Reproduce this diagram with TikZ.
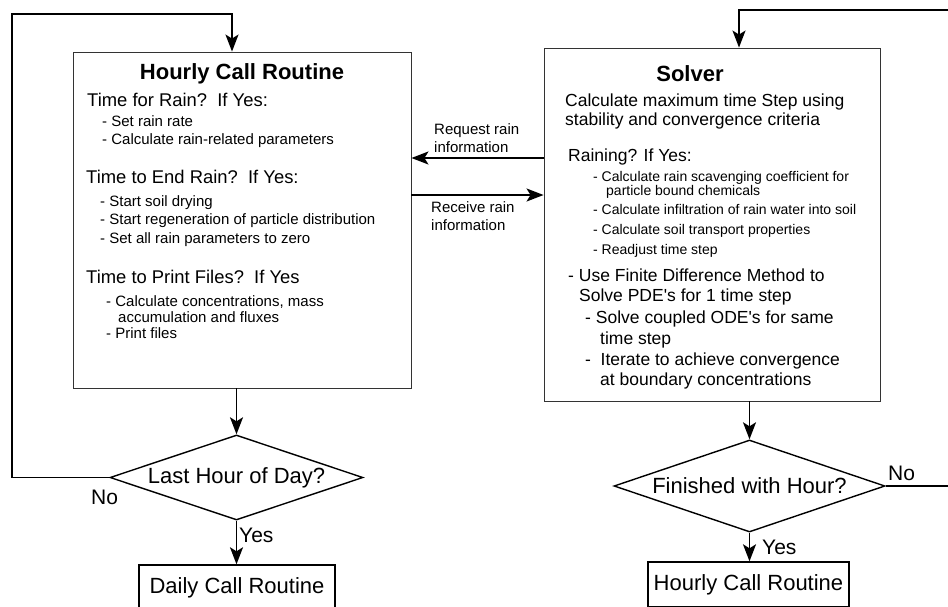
\documentclass[tikz,border=0pt]{standalone}
\usepackage{fontspec}
\setmainfont{Liberation Sans}
\usetikzlibrary{arrows.meta,shapes.geometric}
\newcommand{\fs}[1]{\fontsize{#1}{#1}\selectfont}

\begin{document}
\begin{tikzpicture}[
  x=1pt, y=-1pt,
  >={Stealth[length=17pt,width=13pt,inset=4pt]},
  flow/.style={->, line width=1.8pt},
  frame/.style={draw=black!80, line width=0.9pt, inner sep=0},
  box/.style={draw, line width=1.4pt, inner sep=0, font=\fs{22}},
  decision/.style={diamond, draw, line width=1.4pt, aspect=3, inner sep=0,
    font=\fs{22}},
  title/.style={inner sep=0, text height=15.5pt, text depth=0pt,
    font=\fs{22}\bfseries},
  txt/.style={anchor=west, inner sep=0, text depth=0pt},
  head/.style={txt, text height=13.2pt, font=\fs{18.4}},
  item/.style={txt, text height=10.7pt, font=\fs{15}},
  body/.style={txt, text height=12.5pt, font=\fs{17.5}},
  fine/.style={txt, text height=10pt, font=\fs{14}},
  lab/.style={anchor=west, inner sep=0, align=left, font=\fontsize{15}{18}\selectfont},
  yn/.style={txt, text height=15pt, font=\fs{21}}
]
\useasboundingbox (0,0) rectangle (948,606);
% ---- hourly call routine ----
\node[frame, minimum width=338pt, minimum height=336pt] (hourly) at (242,220) {};
\node[title] (htitle) at (242,72) {Hourly Call Routine};
\node[head] (h1) at (87,100) {Time for Rain?\ \ If Yes:};
\node[item] (h1a) at (102,121) {- Set rain rate};
\node[item] (h1b) at (102,139) {- Calculate rain-related parameters};
\node[head] (h2) at (86,177) {Time to End Rain?\ \ If Yes:};
\node[item] (h2a) at (100,201) {- Start soil drying};
\node[item] (h2b) at (100,219) {- Start regeneration of particle distribution};
\node[item] (h2c) at (100,238) {- Set all rain parameters to zero};
\node[head] (h3) at (86,277) {Time to Print Files?\ \ If Yes};
\node[item] (h3a) at (106,301) {- Calculate concentrations, mass};
\node[item] (h3b) at (118,317) {accumulation and fluxes};
\node[item] (h3c) at (106,333) {- Print files};
% ---- solver ----
\node[frame, minimum width=336pt, minimum height=353pt] (solver) at (712,224.5) {};
\node[title] (stitle) at (690,74) {Solver};
\node[body] (s1) at (565,100) {Calculate maximum time Step using};
\node[body] (s2) at (565,119) {stability and convergence criteria};
\node[body] (s3) at (568,155) {Raining? If Yes:};
\node[fine] (s3a) at (593,176) {- Calculate rain scavenging coefficient for};
\node[fine] (s3b) at (606,190) {particle bound chemicals};
\node[fine] (s3c) at (593,209) {- Calculate infiltration of rain water into soil};
\node[fine] (s3d) at (593,229) {- Calculate soil transport properties};
\node[fine] (s3e) at (593,249) {- Readjust time step};
\node[body] (s4) at (568,275) {- Use Finite Difference Method to};
\node[body] (s4b) at (579,295) {Solve PDE\textquotesingle s for 1 time step};
\node[body] (s5) at (585,317) {- Solve coupled ODE\textquotesingle s for same};
\node[body] (s5b) at (600,338) {time step};
\node[body] (s6) at (585,359) {-\hspace{0.55em}Iterate to achieve convergence};
\node[body] (s6b) at (600,379) {at boundary concentrations};
% ---- rain information exchange ----
\node[lab] (req) at (434,138) {Request rain\\information};
\node[lab] (rec) at (431,216.5) {Receive rain\\information};
\draw[flow] (solver.west |- 0,158) -- (hourly.east |- 0,158);
\draw[flow] (hourly.east |- 0,195) -- (solver.west |- 0,195);
% ---- decisions and exits ----
\node[decision, minimum width=253pt, minimum height=85pt] (ldia) at (236.5,477.5)
  {Last Hour of Day?};
\node[decision, minimum width=271pt, minimum height=92pt] (rdia) at (749.5,486)
  {Finished with Hour?};
\node[box, minimum width=196pt, minimum height=46pt] (daily) at (237,588)
  {Daily Call Routine};
\node[box, minimum width=201pt, minimum height=45pt] (hcall) at (748.5,584.5)
  {Hourly Call Routine};
\draw[flow] (hourly.south -| ldia.north) -- (ldia.north);
\draw[flow] (ldia.south) -- (ldia.south |- daily.north);
\draw[flow] (solver.south -| rdia.north) -- (rdia.north);
\draw[flow] (rdia.south) -- (rdia.south |- hcall.north);
\node[yn] (lyes) at (239,535) {Yes};
\node[yn] (lno) at (91,497) {No};
\node[yn] (ryes) at (762,547) {Yes};
\node[yn] (rno) at (888,473) {No};
% ---- loops back ----
\coordinate (ltop) at (12,14);
\draw[flow] (ldia.west) -| (ltop) -| ([xshift=-10pt]hourly.north);
\coordinate (rtop) at (950,10);
\draw[flow] (rdia.east) -| (rtop) -| ([xshift=27pt]solver.north);
\end{tikzpicture}
\end{document}
